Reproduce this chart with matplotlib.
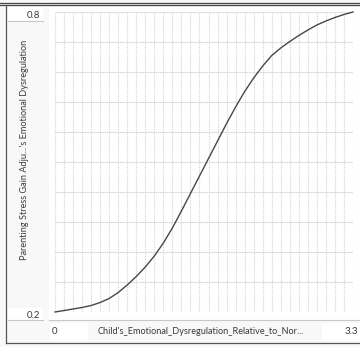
import numpy as np
import matplotlib
matplotlib.use('Agg')
import matplotlib.pyplot as plt
from matplotlib.patches import Rectangle
from matplotlib.lines import Line2D

# lookup, every 0.1 along x
dysregulation = [0.0, 0.1, 0.2, 0.3, 0.4, 0.5, 0.6, 0.7, 0.8, 0.9, 1.0,
                 1.1, 1.2, 1.3, 1.4, 1.5, 1.6, 1.7, 1.8, 1.9, 2.0, 2.1,
                 2.2, 2.3, 2.4, 2.5, 2.6, 2.7, 2.8, 2.9, 3.0, 3.1, 3.2, 3.3]
stress_gain = [0.200, 0.203, 0.206, 0.209, 0.213, 0.219, 0.227, 0.239, 0.254, 0.271, 0.290,
               0.312, 0.338, 0.368, 0.402, 0.437, 0.472, 0.507, 0.542, 0.577, 0.610, 0.641,
               0.668, 0.692, 0.713, 0.728, 0.741, 0.753, 0.764, 0.774, 0.782, 0.789, 0.795, 0.800]

x_min, x_max = 0, 3.3
y_min, y_max = 0.2, 0.8
x_label = "Child's_Emotional_Dysregulation_Relative_to_Nor..."
y_label = "Parenting Stress Gain Adju...'s Emotional Dysregulation"

W, H = 360, 347
plt.rcParams['font.family'] = ['Lato', 'DejaVu Sans']

fig = plt.figure(figsize=(W / 100, H / 100), dpi=100)
fig.patch.set_facecolor('#f8f8f8')

def fx(x):
    return x / W

def fy(y):
    return 1 - y / H

def box(x0, y0, x1, y1, color):
    fig.patches.append(Rectangle((fx(x0), fy(y1)), fx(x1 - x0), (y1 - y0) / H,
                                 transform=fig.transFigure, color=color, lw=0, zorder=-1))

def hline(y, x0, x1, color='#555555', lw=0.9):
    fig.lines.append(Line2D([fx(x0), fx(x1)], [fy(y), fy(y)], transform=fig.transFigure,
                            color=color, lw=lw))

def vline(x, y0, y1, color='#555555', lw=0.9):
    fig.lines.append(Line2D([fx(x), fx(x)], [fy(y0), fy(y1)], transform=fig.transFigure,
                            color=color, lw=lw))

# white panel behind the graph and the value boxes
box(49, 7, W, 320, 'white')
box(8, 7, 43, 21, 'white')
box(8, 308, 43, 320, 'white')
box(50, 323, 88, 341, 'white')
box(322, 323, W, 341, 'white')
hline(21, 8, 43, '#c8c8c8', 0.8)
hline(320, 8, 43, '#c8c8c8', 0.8)
hline(320, 49, W, '#c8c8c8', 0.8)

# frame
hline(2.7, 0, W, '#444444')
hline(4.7, 0, W, '#444444')
vline(6, 4.7, 343)
hline(343, 6, W)

ax = fig.add_axes([fx(55), fy(312), (353 - 55) / W, (312 - 12) / H], zorder=1)
ax.set_facecolor('white')
ax.set_xlim(x_min, x_max)
ax.set_ylim(y_min, y_max)
ax.set_xticks(np.linspace(x_min, x_max, 34))
ax.set_yticks(np.linspace(y_min, y_max, 11))
ax.tick_params(length=0, labelbottom=False, labelleft=False)
ax.grid(True, axis='x', color='#d4d4d4', lw=0.8, ls=(0, (1, 1)))
ax.grid(True, axis='y', color='#d8d8d8', lw=0.8, ls=(0, (1.5, 0.5)))
for s in ax.spines.values():
    s.set_visible(False)
ax.plot(dysregulation, stress_gain, color='#474747', lw=1.0, clip_on=False)

tc = '#3a3a3a'
fig.text(fx(40), fy(15), f'{y_max:g}', ha='right', va='center', fontsize=7, color=tc)
fig.text(fx(40), fy(315), f'{y_min:g}', ha='right', va='center', fontsize=7, color=tc)
fig.text(fx(52), fy(332), f'{x_min:g}', ha='left', va='center', fontsize=7, color=tc)
fig.text(fx(358), fy(332), f'{x_max:g}', ha='right', va='center', fontsize=7, color=tc)
fig.text(fx(98), fy(332), x_label, ha='left', va='center', fontsize=6.6, color=tc)
fig.text(fx(25), fy(150), y_label, ha='center', va='center', rotation=90, fontsize=6.6, color=tc)

fig.savefig('out.png', dpi=100, facecolor=fig.get_facecolor())
